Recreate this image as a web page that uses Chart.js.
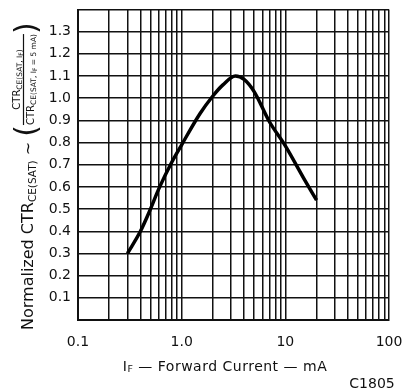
<!DOCTYPE html>
<html>
<head>
<meta charset="utf-8">
<script src="https://cdn.jsdelivr.net/npm/chart.js@4.4.1/dist/chart.umd.min.js"></script>
<style>
  html, body { margin: 0; padding: 0; background: #fff; }
  #wrap { width: 406px; height: 392px; }
</style>
</head>
<body>
<div id="wrap"><canvas id="ctrchart" width="406" height="392"></canvas></div>
<script>
// forward current (mA) and normalized CTR
const ifCurrent = [0.3, 0.4, 0.5, 0.6, 0.8, 1.0, 1.5, 2.0, 2.5, 3.3, 4.0, 5.0, 7.0, 10, 15, 20];
const ctrNorm   = [0.30, 0.40, 0.50, 0.59, 0.71, 0.79, 0.93, 1.01, 1.06, 1.10, 1.085, 1.03, 0.895, 0.785, 0.64, 0.54];

// axis ticks
const xGridValues = [0.1, 0.2, 0.3, 0.4, 0.5, 0.6, 0.7, 0.8, 0.9,
                     1, 2, 3, 4, 5, 6, 7, 8, 9,
                     10, 20, 30, 40, 50, 60, 70, 80, 90, 100];
const xTickLabels = { "0.1": "0.1", "1": "1.0", "10": "10", "100": "100" };
const yMin = 0, yMax = 1.4, yStep = 0.1;

const tickFont = { family: "DejaVu Sans", size: 14 };

function drawRun(ctx, parts, x, y) {
    // parts: [text, size, dy]
    let pos = x;
    for (let p of parts) {
        ctx.font = p[1] + "px 'DejaVu Sans'";
        ctx.fillText(p[0], pos, y + (p[2] || 0));
        pos += ctx.measureText(p[0]).width;
    }
    return pos - x;
}
function runWidth(ctx, parts) {
    let w = 0;
    for (let p of parts) {
        ctx.font = p[1] + "px 'DejaVu Sans'";
        w += ctx.measureText(p[0]).width;
    }
    return w;
}

const labelsPlugin = {
    id: "labels",
    afterDraw(chart) {
        const ctx = chart.ctx;
        ctx.save();
        ctx.fillStyle = "#111";
        ctx.strokeStyle = "#111";
        ctx.textBaseline = "alphabetic";
        ctx.textAlign = "left";

        // x axis title
        ctx.letterSpacing = "0.5px";
        const xt = [["I", 14, 0], ["F", 9.5, 1], [" \u2014 Forward Current \u2014 mA", 14, 0]];
        const xw = runWidth(ctx, xt);
        drawRun(ctx, xt, 225 - xw / 2, 371);
        ctx.letterSpacing = "0px";

        // figure code
        ctx.font = "14px 'DejaVu Sans'";
        ctx.textAlign = "center";
        ctx.fillText("C1805", 372, 388);
        ctx.textAlign = "left";

        // y axis title, rotated
        ctx.translate(33, 330);
        ctx.rotate(-Math.PI / 2);
        const main = [["Normalized CTR", 16, 0], ["CE(SAT)", 10.5, 2.5], [" ~ ", 16, 0]];
        let u = drawRun(ctx, main, 0, 0);
        ctx.font = "30px 'DejaVu Sans'";
        ctx.fillText("(", u, 3);
        u += ctx.measureText("(").width;
        const num = [["CTR", 10, 0], ["CE(SAT, I", 7.5, 1.5], ["F", 6, 2.5], [")", 7.5, 1.5]];
        const den = [["CTR", 10, 0], ["CE(SAT, I", 7.5, 2], ["F", 6, 3], [" = 5 mA)", 7.5, 2]];
        const dw = runWidth(ctx, den);
        const nw = runWidth(ctx, num);
        drawRun(ctx, num, u + (dw - nw) / 2, -13);
        ctx.lineWidth = 1.2;
        ctx.beginPath();
        ctx.moveTo(u, -9.5);
        ctx.lineTo(u + dw, -9.5);
        ctx.stroke();
        drawRun(ctx, den, u, 0.5);
        u += dw;
        ctx.font = "30px 'DejaVu Sans'";
        ctx.fillText(")", u, 3);
        ctx.restore();
    }
};

const ctx = document.getElementById("ctrchart").getContext("2d");
const points = ifCurrent.map((v, i) => ({ x: v, y: ctrNorm[i] }));

new Chart(ctx, {
    type: "line",
    data: {
        datasets: [{
            data: points,
            borderColor: "#000",
            borderWidth: 3.5,
            pointRadius: 0,
            fill: false,
            cubicInterpolationMode: "monotone"
        }]
    },
    options: {
        responsive: false,
        animation: false,
        layout: { padding: { left: 0, right: 17, top: 9.5, bottom: 0 } },
        plugins: { legend: { display: false }, tooltip: { enabled: false } },
        scales: {
            x: {
                type: "logarithmic",
                min: 0.1,
                max: 100,
                afterBuildTicks: (scale) => {
                    scale.ticks = xGridValues.map(v => ({ value: v }));
                },
                afterFit: (scale) => {
                    scale.height = 72;
                    scale.paddingLeft = 0;
                    scale.paddingRight = 0;
                },
                grid: { color: "#111", lineWidth: 1.5, drawTicks: false },
                border: { color: "#111", width: 2 },
                ticks: {
                    autoSkip: false,
                    maxRotation: 0,
                    padding: 14,
                    color: "#111",
                    font: tickFont,
                    callback: (v) => xTickLabels[String(v)] || ""
                }
            },
            y: {
                min: yMin,
                max: yMax,
                afterFit: (scale) => {
                    scale.width = 78;
                    scale.paddingTop = 0;
                    scale.paddingBottom = 0;
                },
                grid: { color: "#111", lineWidth: 1.5, drawTicks: false },
                border: { color: "#111", width: 2 },
                ticks: {
                    stepSize: yStep,
                    padding: 7,
                    color: "#111",
                    font: tickFont,
                    callback: (v) => (v < 0.05 || v > 1.35) ? "" : v.toFixed(1)
                }
            }
        }
    },
    plugins: [labelsPlugin]
});
</script>
</body>
</html>
